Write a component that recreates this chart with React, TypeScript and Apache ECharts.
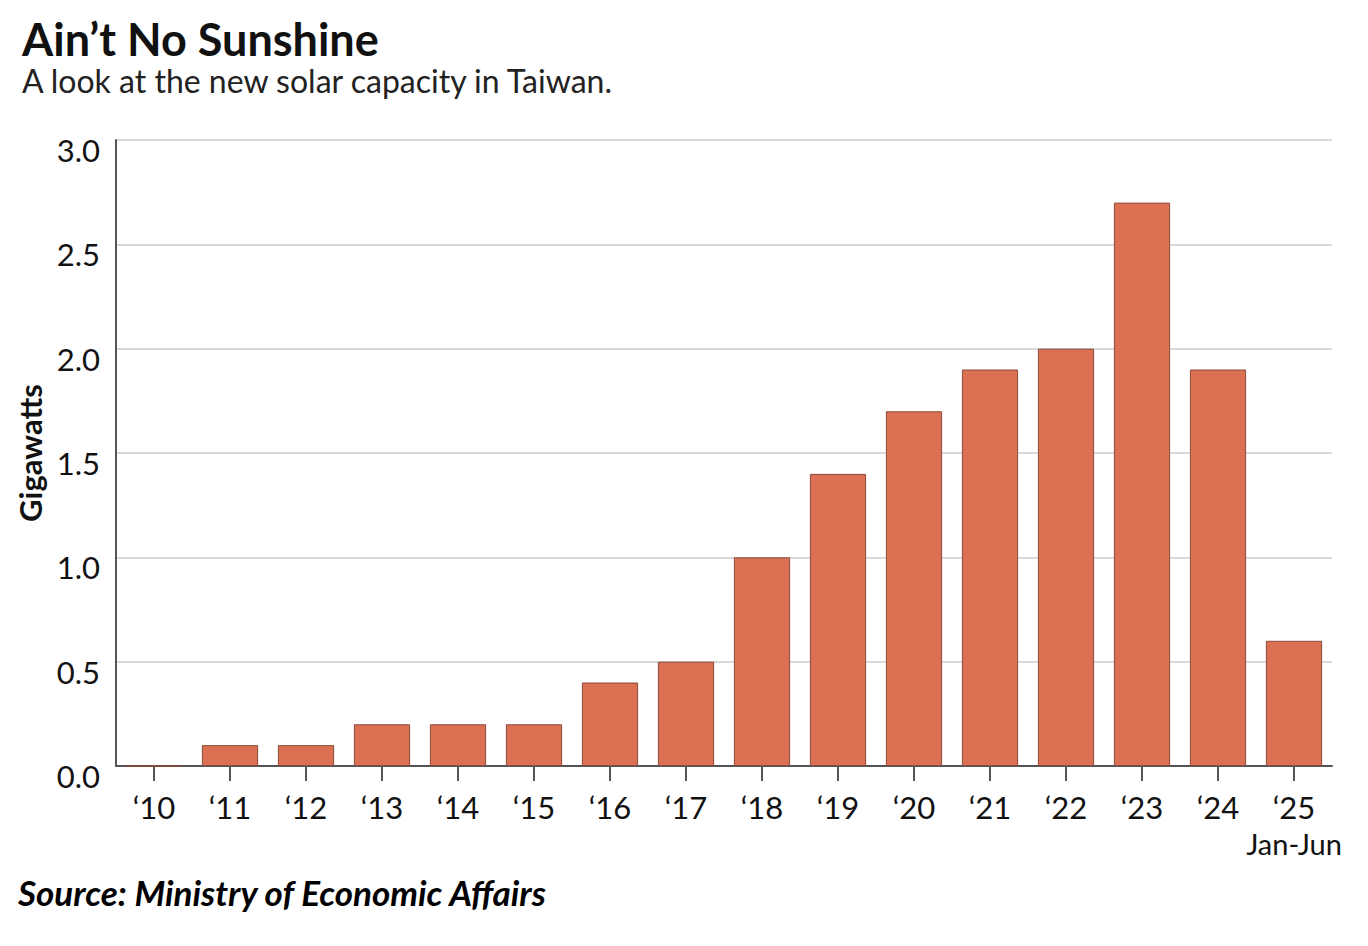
import React, { useEffect, useRef } from "react";
import * as echarts from "echarts";

const categories = ["‘10", "‘11", "‘12", "‘13", "‘14", "‘15", "‘16", "‘17", "‘18", "‘19", "‘20", "‘21", "‘22", "‘23", "‘24", "‘25"];
const values = [0, 0.1, 0.1, 0.2, 0.2, 0.2, 0.4, 0.5, 1.0, 1.4, 1.7, 1.9, 2.0, 2.7, 1.9, 0.6];
const title = "Ain’t No Sunshine";
const subtitle = "A look at the new solar capacity in Taiwan.";
const source = "Source: Ministry of Economic Affairs";
const yName = "Gigawatts";
const lastNote = "Jan-Jun";

const FONT = "Lato, 'Noto Sans', sans-serif";

export default function App() {
  const ref = useRef<HTMLDivElement>(null);
  useEffect(() => {
    if (!ref.current) return;
    const chart = echarts.init(ref.current, null, { renderer: "svg" });
    chart.setOption({
      animation: false,
      backgroundColor: "#ffffff",
      textStyle: { fontFamily: FONT },
      grid: { left: 116, right: 36, top: 140, bottom: 180, containLabel: false },
      graphic: [
        { type: "text", left: 22, top: 16, style: { text: title, font: `bold 45px ${FONT}`, lineHeight: 44, fill: "#111" } },
        { type: "text", left: 22, top: 63, style: { text: subtitle, font: `32px ${FONT}`, lineHeight: 34, fill: "#222" } },
        { type: "text", left: 18, top: 874, style: { text: source, font: `italic bold 35px ${FONT}`, fill: "#000" } },
      ],
      xAxis: {
        type: "category",
        data: categories,
        axisLine: { show: true, lineStyle: { color: "#555", width: 2 } },
        axisTick: { show: true, alignWithLabel: true, interval: 0, length: 15, lineStyle: { color: "#555", width: 2 } },
        axisLabel: {
          interval: 0,
          color: "#111",
          fontSize: 31,
          lineHeight: 37,
          fontFamily: FONT,
          margin: 22,
          formatter: (v: string, i: number) => (i === categories.length - 1 ? `${v}\n{s|${lastNote}}` : v),
          rich: { s: { fontSize: 29, fontFamily: FONT, color: "#111", lineHeight: 37 } },
        },
      },
      yAxis: {
        type: "value",
        min: 0,
        max: 3,
        interval: 0.5,
        name: yName,
        nameLocation: "middle",
        nameGap: 62,
        nameTextStyle: { fontSize: 31, fontWeight: "bold", color: "#111", fontFamily: FONT },
        axisLine: { show: true, lineStyle: { color: "#555", width: 2 } },
        axisTick: { show: false },
        splitLine: { lineStyle: { color: "#cccccc", width: 1.5 } },
        axisLabel: {
          color: "#111",
          fontSize: 31,
          fontFamily: FONT,
          margin: 16,
          verticalAlign: "top",
          lineHeight: 20,
          formatter: (v: number) => v.toFixed(1),
        },
      },
      series: [
        {
          type: "bar",
          data: values,
          barWidth: "74%",
          itemStyle: { color: "#DB7152", borderColor: "#8a4a38", borderWidth: 1 },
        },
      ],
    });
    return () => chart.dispose();
  }, []);
  return <div ref={ref} style={{ position: "fixed", left: 0, top: 0, width: 1368, height: 946 }} />;
}
